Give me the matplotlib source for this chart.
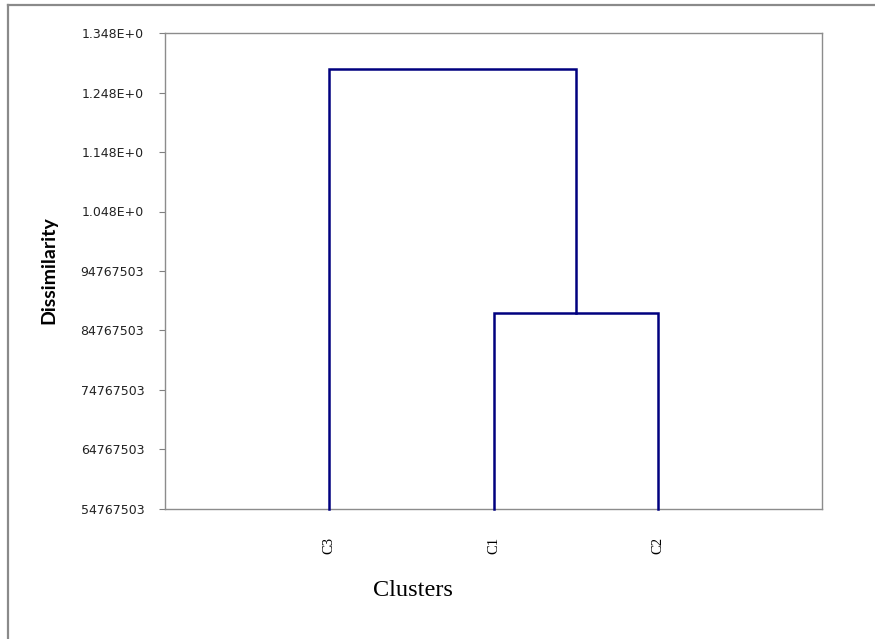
import matplotlib.pyplot as plt
from matplotlib.lines import Line2D

# leaves in dendrogram order and merge heights
leaves = ["C3", "C1", "C2"]
# (left member, right member, height); members index leaves or earlier merges (3 + k)
merges = [(1, 2, 0.8777), (0, 3, 1.2867)]

y_ticks = [0.54767503, 0.64767503, 0.74767503, 0.84767503, 0.94767503,
           1.04767503, 1.14767503, 1.24767503, 1.34767503]
y_labels = ["54767503", "64767503", "74767503", "84767503", "94767503",
            "1.048E+0", "1.148E+0", "1.248E+0", "1.348E+0"]

fig = plt.figure(figsize=(8.75, 6.39), dpi=100)
ax = fig.add_axes([165 / 875, 1 - 509 / 639, 657 / 875, 476 / 639])

# positions and heights of nodes
xpos = [i + 1 for i in range(len(leaves))]
ypos = [y_ticks[0]] * len(leaves)
for a, b, h in merges:
    xa, xb = xpos[a], xpos[b]
    ax.plot([xa, xa, xb, xb], [ypos[a], h, h, ypos[b]], color="#00007f", lw=1.8,
            solid_joinstyle="miter", clip_on=False, zorder=3)
    xpos.append((xa + xb) / 2)
    ypos.append(h)

ax.set_xlim(0, len(leaves) + 1)
ax.set_ylim(y_ticks[0], y_ticks[-1])
ax.set_xticks(range(1, len(leaves) + 1))
ax.set_xticklabels(leaves, rotation=90, family="Liberation Serif", fontsize=10.5)
ax.tick_params(axis="x", length=0, pad=20)
ax.set_yticks(y_ticks)
ax.set_yticklabels(y_labels, family="DejaVu Sans", fontsize=9, color="#222222")
ax.tick_params(axis="y", direction="out", length=4, width=0.8, color="#808080", pad=11)
for s in ax.spines.values():
    s.set_color("#8c8c8c")
    s.set_linewidth(1.0)

fig.text(49 / 875, 1 - 270 / 639, "Dissimilarity", rotation=90, ha="center", va="center",
         family="Lato", fontweight="bold", fontsize=14)
fig.text(413 / 875, 1 - 590 / 639, "Clusters", ha="center", va="center",
         family="Liberation Serif", fontsize=17.5)

# outer frame (top and left edges)
fig.add_artist(Line2D([8 / 875, 1], [1 - 4.5 / 639, 1 - 4.5 / 639], color="#8a8a8a", lw=1.6,
                      transform=fig.transFigure))
fig.add_artist(Line2D([8 / 875, 8 / 875], [0, 1 - 4.5 / 639], color="#8a8a8a", lw=1.6,
                      transform=fig.transFigure))

fig.savefig("out.png", dpi=100)
